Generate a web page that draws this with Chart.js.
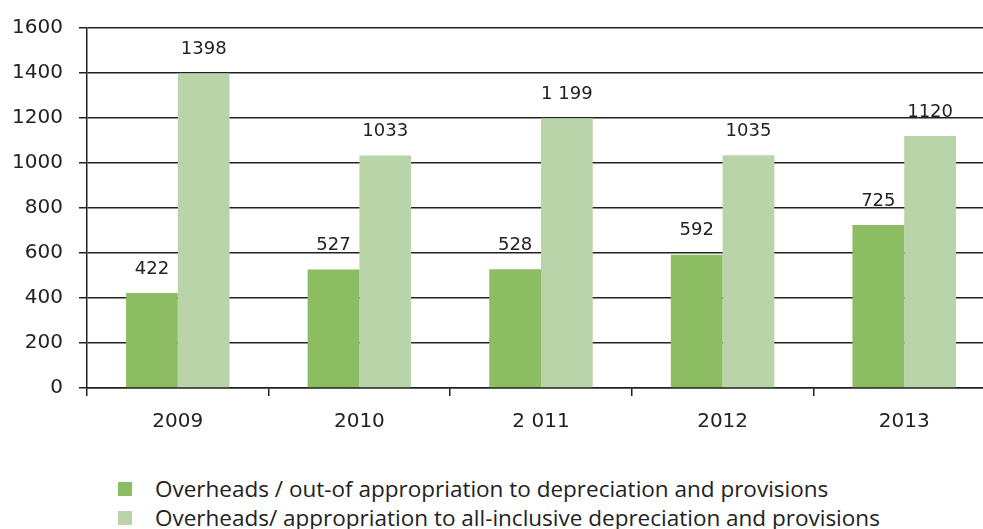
<!DOCTYPE html>
<html>
<head>
<meta charset="utf-8">
<script src="https://cdn.jsdelivr.net/npm/chart.js@4/dist/chart.umd.min.js"></script>
<style>
    html, body { margin: 0; padding: 0; background: #fff; overflow: hidden; }
    #wrap { position: relative; width: 995px; height: 529px; }
    #chart { position: absolute; left: 0; top: 0; }
    #legend { position: absolute; left: 118px; top: 474px; font-family: "Open Sans", sans-serif; font-size: 22.5px; color: #222; }
    .item { display: flex; align-items: center; height: 29px; }
    .box { width: 14px; height: 14px; margin-right: 23px; }
</style>
</head>
<body>
<div id="wrap">
    <canvas id="chart" width="995" height="440"></canvas>
    <div id="legend"></div>
</div>
<script>
const categories = ['2009', '2010', '2 011', '2012', '2013'];
const outOfValues = [422, 527, 528, 592, 725];
const allInValues = [1398, 1033, 1199, 1035, 1120];
const outOfLabels = ['422', '527', '528', '592', '725'];
const allInLabels = ['1398', '1033', '1 199', '1035', '1120'];
const seriesNames = [
    'Overheads / out-of appropriation to depreciation and provisions',
    'Overheads/ appropriation to all-inclusive depreciation and provisions'
];
const yTicks = [0, 200, 400, 600, 800, 1000, 1200, 1400, 1600];

const FONT = '"DejaVu Sans", sans-serif';
const INK = '#222';

// Draw value labels above each bar
const valueLabels = {
    id: 'valueLabels',
    afterDatasetsDraw(chart) {
        const ctx = chart.ctx;
        const texts = [outOfLabels, allInLabels];
        ctx.save();
        ctx.font = '18px ' + FONT;
        ctx.fillStyle = INK;
        ctx.textAlign = 'center';
        ctx.textBaseline = 'middle';
        chart.data.datasets.forEach((ds, i) => {
            chart.getDatasetMeta(i).data.forEach((bar, j) => {
                ctx.fillText(texts[i][j], bar.x, bar.y - 24);
            });
        });
        ctx.restore();
    }
};

const chart = new Chart(document.getElementById('chart').getContext('2d'), {
    type: 'bar',
    data: {
        labels: categories,
        datasets: [{
            label: seriesNames[0],
            data: outOfValues,
            backgroundColor: '#8cbd63',
            barPercentage: 1,
            categoryPercentage: 0.57
        }, {
            label: seriesNames[1],
            data: allInValues,
            backgroundColor: '#b9d4a9',
            barPercentage: 1,
            categoryPercentage: 0.57
        }]
    },
    options: {
        responsive: false,
        animation: false,
        layout: { padding: { top: 17, right: 0, left: 0, bottom: 0 } },
        plugins: {
            legend: { display: false },
            tooltip: { enabled: false }
        },
        scales: {
            x: {
                afterFit: s => { s.height = 52; },
                grid: {
                    offset: true,
                    drawOnChartArea: false,
                    tickLength: 8,
                    color: INK,
                    lineWidth: 1.5
                },
                border: { color: INK, width: 1.5 },
                ticks: { font: { family: FONT, size: 20 }, color: INK, padding: 14 }
            },
            y: {
                min: 0,
                max: 1600,
                afterFit: s => { s.width = 87; },
                afterBuildTicks: s => { s.ticks = yTicks.map(v => ({ value: v })); },
                grid: { color: INK, lineWidth: 1.5, tickLength: 8 },
                border: { color: INK, width: 1.5 },
                ticks: {
                    font: { family: FONT, size: 20 },
                    color: INK,
                    padding: 16,
                    callback: v => String(v)
                }
            }
        }
    },
    plugins: [valueLabels]
});

// Legend stacked vertically below the chart
const legend = document.getElementById('legend');
chart.data.datasets.forEach(ds => {
    const row = document.createElement('div');
    row.className = 'item';
    const box = document.createElement('span');
    box.className = 'box';
    box.style.background = ds.backgroundColor;
    const txt = document.createElement('span');
    txt.textContent = ds.label;
    row.appendChild(box);
    row.appendChild(txt);
    legend.appendChild(row);
});
</script>
</body>
</html>
